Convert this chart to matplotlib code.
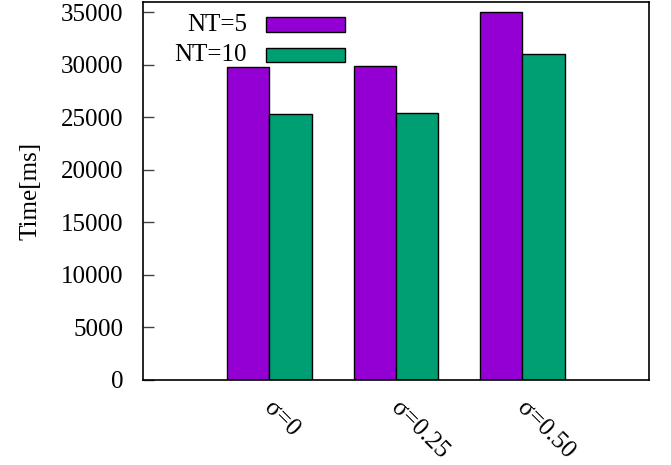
import numpy as np
import matplotlib
matplotlib.use("Agg")
import matplotlib.pyplot as plt
from matplotlib.patches import Rectangle

plt.rcParams['font.family'] = ['Liberation Serif', 'DejaVu Serif']

categories = ['σ=0', 'σ=0.25', 'σ=0.50']
series_names = ['NT=5', 'NT=10']
nt5_times = [29850, 29900, 35000]
nt10_times = [25300, 25450, 31000]
colors = ['#9400D3', '#009E73']

fig = plt.figure(figsize=(6.71, 4.65), dpi=100)
ax = fig.add_axes([0.2131, 0.1828, 0.7541, 0.8129])

x = np.arange(len(categories))
width = 1 / 3
for i, vals in enumerate([nt5_times, nt10_times]):
    ax.bar(x + (i - 0.5) * width, vals, width, color=colors[i],
           edgecolor='black', linewidth=1.0, zorder=2)

ax.set_xlim(-1, 3)
ax.set_ylim(0, 36000)
ax.set_yticks(np.arange(0, 35001, 5000))
ax.set_xticks(x)
ax.set_xticklabels([])
# rotated category labels hanging from each group centre
for xi, cat in zip(x, categories):
    ax.annotate(cat, xy=(xi, 0), xycoords=('data', 'axes fraction'),
                xytext=(-7, -12), textcoords='offset points',
                rotation=-45, ha='left', va='top', fontsize=18)
ax.tick_params(axis='x', length=0)
ax.tick_params(axis='y', direction='in', length=8, width=1, color='#444444',
               labelsize=18, pad=14, right=False)
ax.set_ylabel('Time[ms]', fontsize=18, labelpad=14)
for s in ax.spines.values():
    s.set_linewidth(1.2)

# key in the top-left corner, text right-aligned before the swatch
key_y = [0.94, 0.86]
for name, c, yk in zip(series_names, colors, key_y):
    ax.text(0.2055, yk, name, transform=ax.transAxes, ha='right', va='center',
            fontsize=18)
    ax.add_patch(Rectangle((0.243, yk - 0.019), 0.156, 0.038,
                           transform=ax.transAxes, facecolor=c,
                           edgecolor='black', linewidth=1.0))

fig.savefig('out.png', dpi=100)
